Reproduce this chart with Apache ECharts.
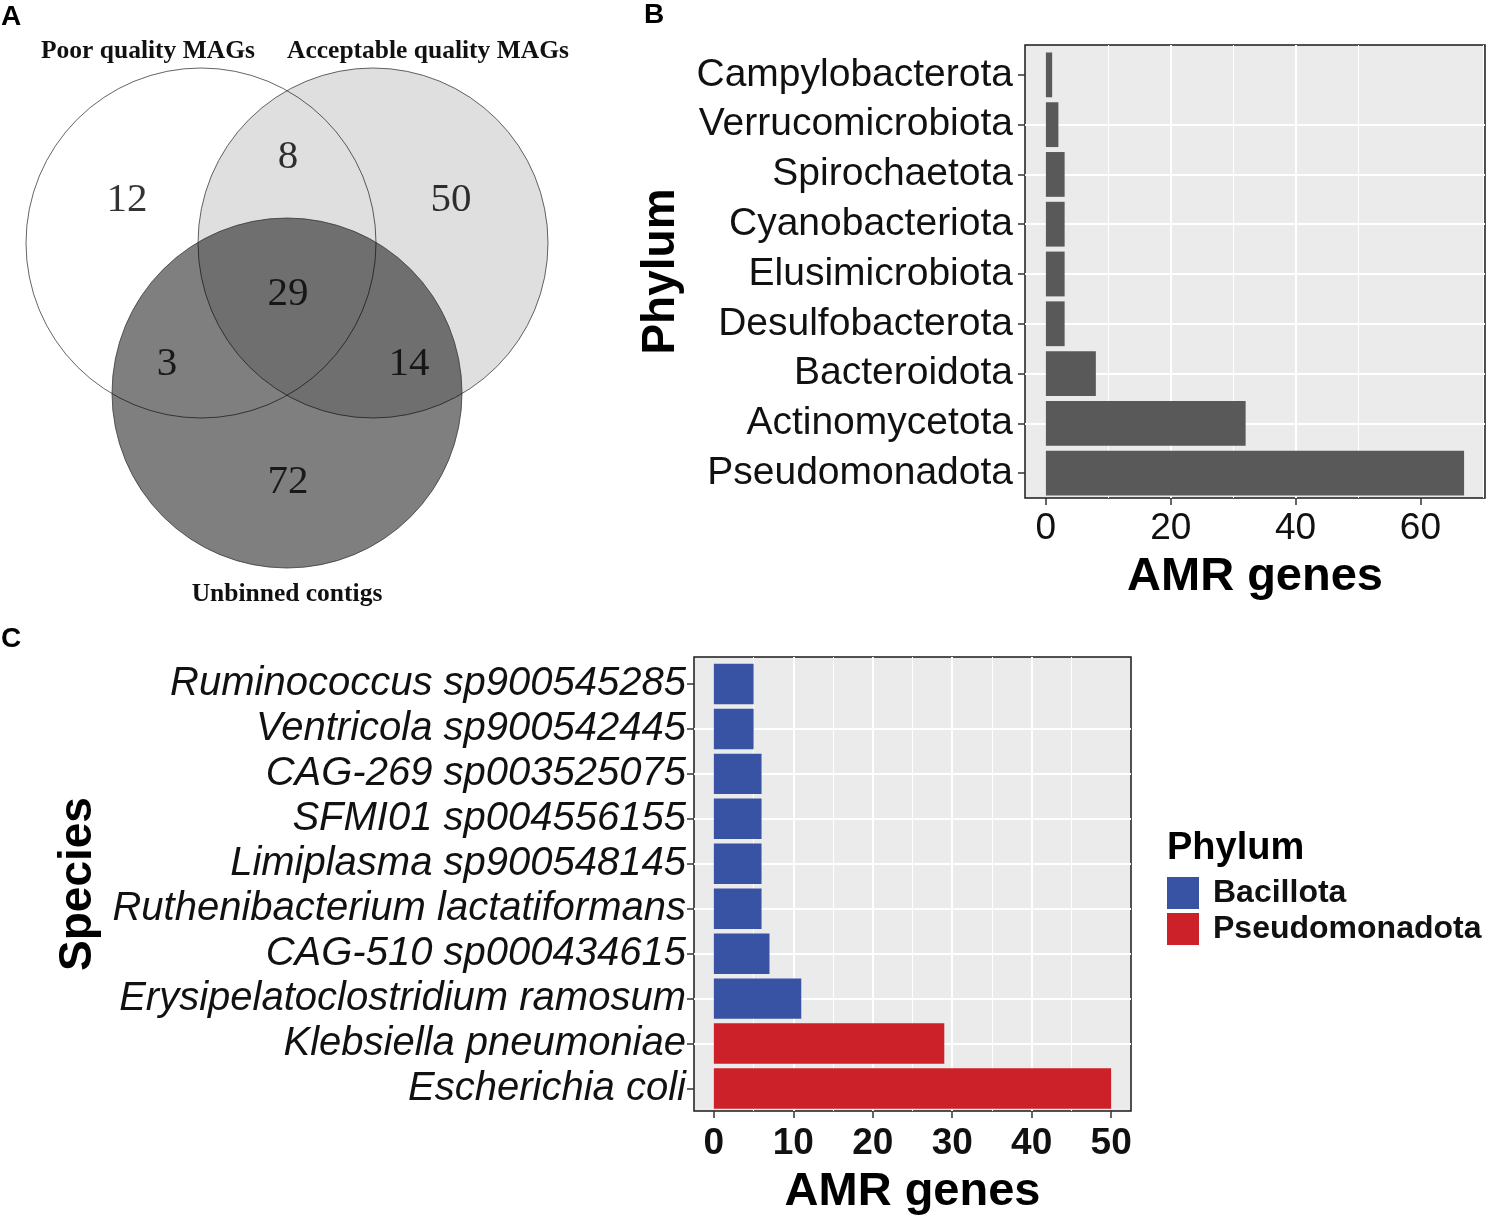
<!DOCTYPE html>
<html>
<head>
<meta charset="utf-8">
<script src="https://cdn.jsdelivr.net/npm/echarts@6/dist/echarts.min.js"></script>
<style>
html,body{margin:0;padding:0;background:#fff;}
#chart{width:1490px;height:1217px;}
</style>
</head>
<body>
<div id="chart"></div>
<script>
// ---------------- DATA ----------------
// Panel A: Venn diagram
const vennSetNames = ['Poor quality MAGs', 'Acceptable quality MAGs', 'Unbinned contigs'];
const vennRegions = ['Poor only', 'Poor & Acceptable', 'Acceptable only', 'Poor & Unbinned', 'All three', 'Acceptable & Unbinned', 'Unbinned only'];
const vennCounts = [12, 8, 50, 3, 29, 14, 72];

// Panel B: AMR genes per phylum (top to bottom)
const phylumNames = ['Campylobacterota', 'Verrucomicrobiota', 'Spirochaetota', 'Cyanobacteriota', 'Elusimicrobiota', 'Desulfobacterota', 'Bacteroidota', 'Actinomycetota', 'Pseudomonadota'];
const phylumAMR = [1, 2, 3, 3, 3, 3, 8, 32, 67];
const phylumTicks = [0, 20, 40, 60];

// Panel C: AMR genes per species (top to bottom)
const speciesNames = ['Ruminococcus sp900545285', 'Ventricola sp900542445', 'CAG-269 sp003525075', 'SFMI01 sp004556155', 'Limiplasma sp900548145', 'Ruthenibacterium lactatiformans', 'CAG-510 sp000434615', 'Erysipelatoclostridium ramosum', 'Klebsiella pneumoniae', 'Escherichia coli'];
const speciesAMR = [5, 5, 6, 6, 6, 6, 7, 11, 29, 50];
const speciesPhylum = ['Bacillota', 'Bacillota', 'Bacillota', 'Bacillota', 'Bacillota', 'Bacillota', 'Bacillota', 'Bacillota', 'Pseudomonadota', 'Pseudomonadota'];
const speciesTicks = [0, 10, 20, 30, 40, 50];
const legendPhyla = ['Bacillota', 'Pseudomonadota'];

// ---------------- LAYOUT / STYLE ----------------
const SANS = '"Liberation Sans", Arial, Helvetica, sans-serif';
const SERIF = '"Liberation Serif", "Times New Roman", serif';
const VENN_CIRCLES = [[201, 243, 175], [373, 243, 175], [287, 393, 175]];
const VENN_FILLS = ['rgba(255,255,255,0)', 'rgba(0,0,0,0.125)', 'rgba(0,0,0,0.5)'];
const VENN_LABEL_POS = [[127, 200], [288, 157], [451, 200], [167, 364], [288, 294], [409, 364], [288, 482]];
const PHYLUM_COLORS = { 'Bacillota': '#3953A4', 'Pseudomonadota': '#CC2128' };

function barRenderer(params, api) {
  const v = api.value(0), i = api.value(1);
  const a = api.coord([0, i - 0.45]);
  const b = api.coord([v, i + 0.45]);
  return {
    type: 'rect',
    shape: { x: Math.min(a[0], b[0]), y: Math.min(a[1], b[1]), width: Math.abs(b[0] - a[0]), height: Math.abs(b[1] - a[1]) },
    style: { fill: api.visual('color') }
  };
}

function catAxis(grid, names, gap, italic, title, fs, margin) {
  const idx = names.map((_, i) => i);
  return {
    gridIndex: grid, type: 'value', inverse: true, position: 'left',
    min: -0.6, max: names.length - 0.5, minInterval: 1, maxInterval: 1,
    axisLine: { show: false, onZero: false },
    axisTick: { show: true, customValues: idx, length: 7, lineStyle: { color: '#333', width: 1.5 } },
    axisLabel: {
      customValues: idx, formatter: v => names[Math.round(v)] || '',
      fontFamily: SANS, fontSize: fs, fontStyle: italic ? 'italic' : 'normal', color: '#111', margin: margin
    },
    splitLine: { show: true, showMinLine: false, showMaxLine: false, lineStyle: { color: '#fff', width: 2 } },
    name: title, nameLocation: 'middle', nameRotate: 90, nameGap: gap,
    nameTextStyle: { fontFamily: SANS, fontSize: 46, fontWeight: 'bold', color: '#000' }
  };
}

function valAxis(grid, min, max, step, ticks, bold, gap, margin) {
  return {
    gridIndex: grid, type: 'value', position: 'bottom', min: min, max: max, minInterval: step, maxInterval: step,
    axisLine: { show: false, onZero: false },
    axisTick: { show: true, customValues: ticks, length: 7, lineStyle: { color: '#333', width: 1.5 } },
    axisLabel: { customValues: ticks, fontFamily: SANS, fontSize: 37, fontWeight: bold ? 'bold' : 'normal', color: '#111', margin: margin },
    splitLine: { show: true, showMinLine: false, showMaxLine: false, lineStyle: { color: '#fff', width: 2 } },
    minorTick: { show: false, splitNumber: 2 },
    minorSplitLine: { show: true, lineStyle: { color: '#fff', width: 1 } },
    name: 'AMR genes', nameLocation: 'middle', nameGap: gap,
    nameTextStyle: { fontFamily: SANS, fontSize: 47, fontWeight: 'bold', color: '#000' }
  };
}

const chart = echarts.init(document.getElementById('chart'), null, { renderer: 'canvas' });

const series = [];
// Panel B bars
series.push({
  type: 'custom', name: 'AMR genes by phylum', xAxisIndex: 0, yAxisIndex: 0,
  itemStyle: { color: '#595959' }, encode: { x: 0, y: 1 },
  data: phylumAMR.map((v, i) => [v, i]), renderItem: barRenderer, z: 3
});
// Panel C bars, one series per phylum (for legend)
legendPhyla.forEach(ph => {
  series.push({
    type: 'custom', name: ph, xAxisIndex: 1, yAxisIndex: 1,
    itemStyle: { color: PHYLUM_COLORS[ph] }, encode: { x: 0, y: 1 },
    data: speciesAMR.map((v, i) => [v, i]).filter((d, i) => speciesPhylum[i] === ph),
    renderItem: barRenderer, z: 3
  });
});
// Panel A Venn circles
series.push({
  type: 'custom', name: 'Venn sets', xAxisIndex: 2, yAxisIndex: 2, silent: true,
  data: VENN_CIRCLES.map((c, i) => ({ name: vennSetNames[i], value: c })),
  renderItem: (params, api) => {
    const c = api.coord([api.value(0), api.value(1)]);
    const r = api.size([api.value(2), 0])[0];
    return { type: 'circle', shape: { cx: c[0], cy: c[1], r: r },
      style: { fill: VENN_FILLS[params.dataIndex], stroke: 'rgba(50,50,50,0.75)', lineWidth: 1 } };
  }
});
// Panel A region counts
series.push({
  type: 'scatter', name: 'Venn counts', xAxisIndex: 2, yAxisIndex: 2, silent: true,
  symbolSize: 1, itemStyle: { color: 'rgba(0,0,0,0)' },
  data: VENN_LABEL_POS.map((p, i) => ({ name: vennRegions[i], value: [p[0], p[1], vennCounts[i]] })),
  label: { show: true, position: 'inside', formatter: p => String(p.value[2]),
    fontFamily: SERIF, fontSize: 41, color: '#000' },
  z: 5
});

const option = {
  animation: false,
  backgroundColor: '#fff',
  textStyle: { fontFamily: SANS },
  grid: [
    { left: 1025, top: 45, width: 460, height: 453, show: true, backgroundColor: '#EBEBEB', borderColor: '#1a1a1a', borderWidth: 1.5 },
    { left: 694, top: 657, width: 437, height: 455, show: true, backgroundColor: '#EBEBEB', borderColor: '#1a1a1a', borderWidth: 1.5 },
    { left: 0, top: 0, width: 600, height: 620, show: false }
  ],
  xAxis: [
    valAxis(0, -3.35, 70.35, 20, phylumTicks, false, 56, 12),
    valAxis(1, -2.5, 52.5, 10, speciesTicks, true, 58, 14),
    { gridIndex: 2, type: 'value', min: 0, max: 600, show: false }
  ],
  yAxis: [
    catAxis(0, phylumNames, 341, false, 'Phylum', 39, 12),
    catAxis(1, speciesNames, 593, true, 'Species', 40, 8),
    { gridIndex: 2, type: 'value', min: 0, max: 620, inverse: true, show: false }
  ],
  legend: {
    data: legendPhyla, orient: 'vertical', left: 1167, top: 877, padding: 0,
    itemWidth: 32, itemHeight: 32, itemGap: 4, icon: 'rect', selectedMode: false,
    textStyle: { fontFamily: SANS, fontSize: 32, fontWeight: 'bold', color: '#111', padding: [0, 0, 0, 9] }
  },
  graphic: [
    { type: 'text', x: 1, y: 17, style: { text: 'A', fontFamily: SANS, fontSize: 28, fontWeight: 'bold', fill: '#000', verticalAlign: 'middle' } },
    { type: 'text', x: 644, y: 15, style: { text: 'B', fontFamily: SANS, fontSize: 28, fontWeight: 'bold', fill: '#000', verticalAlign: 'middle' } },
    { type: 'text', x: 1, y: 639, style: { text: 'C', fontFamily: SANS, fontSize: 28, fontWeight: 'bold', fill: '#000', verticalAlign: 'middle' } },
    { type: 'text', x: 148, y: 51, style: { text: vennSetNames[0], fontFamily: SERIF, fontSize: 25.5, fontWeight: 'bold', fill: '#111', align: 'center', verticalAlign: 'middle' } },
    { type: 'text', x: 428, y: 51, style: { text: vennSetNames[1], fontFamily: SERIF, fontSize: 25.5, fontWeight: 'bold', fill: '#111', align: 'center', verticalAlign: 'middle' } },
    { type: 'text', x: 287, y: 594, style: { text: vennSetNames[2], fontFamily: SERIF, fontSize: 25.5, fontWeight: 'bold', fill: '#111', align: 'center', verticalAlign: 'middle' } },
    { type: 'text', x: 1167, y: 849, style: { text: 'Phylum', fontFamily: SANS, fontSize: 38, fontWeight: 'bold', fill: '#000', verticalAlign: 'middle' } }
  ],
  series: series
};
chart.setOption(option);
</script>
</body>
</html>
